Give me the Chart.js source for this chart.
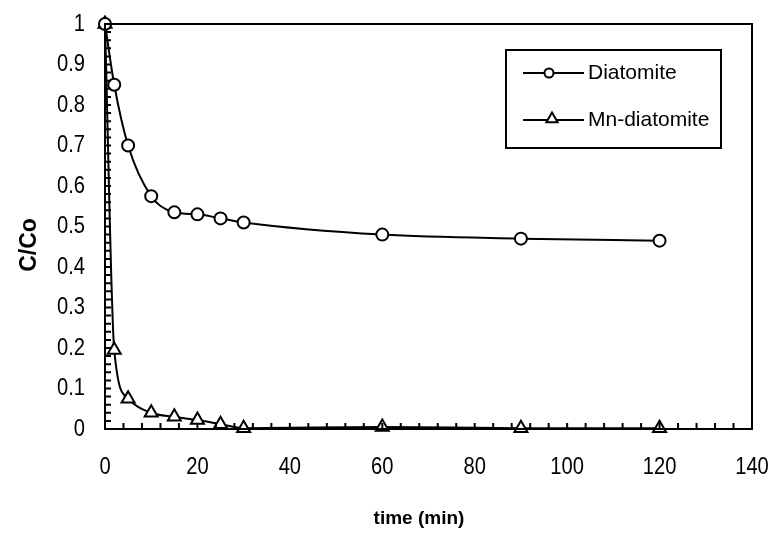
<!DOCTYPE html>
<html>
<head>
<meta charset="utf-8">
<script src="https://cdn.jsdelivr.net/npm/chart.js@4.4.1/dist/chart.umd.min.js"></script>
<style>
  html, body { margin: 0; padding: 0; background: #fff; }
  canvas { display: block; }
</style>
</head>
<body>
<canvas id="chart" width="773" height="533"></canvas>
<script>
// データ
const times = [0, 2, 5, 10, 15, 20, 25, 30, 60, 90, 120];
const diatomite = [1.0, 0.85, 0.70, 0.575, 0.535, 0.53, 0.52, 0.51, 0.48, 0.47, 0.465];
const mnDiatomite = [1.0, 0.195, 0.075, 0.04, 0.03, 0.022, 0.012, 0.002, 0.005, 0.002, 0.002];
const seriesLabels = ['Diatomite', 'Mn-diatomite'];
const xTitle = 'time (min)';
const yTitle = 'C/Co';

const labelFamily = "'Liberation Sans', Arial, sans-serif";

function toPoints(ys) {
    return times.map((t, i) => ({ x: t, y: ys[i] }));
}

// 横に少し詰めて文字を描く（元図の細長い数字に合わせる）
function narrowText(ctx, text, x, y, align) {
    const sx = 0.84;
    ctx.save();
    ctx.translate(x, y);
    ctx.scale(sx, 1);
    ctx.textAlign = align;
    ctx.fillText(text, 0, 0);
    ctx.restore();
}

// 内向きの目盛り・外枠・目盛りラベル・軸タイトル
const frameTicks = {
    id: 'frameTicks',
    afterDatasetsDraw(chart) {
        const { ctx, chartArea: a, scales: { x, y } } = chart;
        ctx.save();
        ctx.strokeStyle = '#000';
        ctx.lineWidth = 2;
        ctx.strokeRect(a.left, a.top, a.right - a.left, a.bottom - a.top);
        ctx.beginPath();
        for (let v = 0; v <= 140; v += 4) {
            const px = x.getPixelForValue(v);
            ctx.moveTo(px, a.bottom);
            ctx.lineTo(px, a.bottom - 6);
        }
        for (let k = 0; k <= 50; k++) {
            const py = y.getPixelForValue(k * 0.02);
            ctx.moveTo(a.left, py);
            ctx.lineTo(a.left + 6, py);
        }
        ctx.stroke();

        ctx.fillStyle = '#000';
        ctx.font = '24px ' + labelFamily;
        ctx.textBaseline = 'middle';
        x.ticks.forEach(t => {
            narrowText(ctx, String(t.value), x.getPixelForValue(t.value), a.bottom + 38, 'center');
        });
        y.ticks.forEach(t => {
            narrowText(ctx, String(+t.value.toFixed(1)), a.left - 20, y.getPixelForValue(t.value), 'right');
        });

        ctx.font = 'bold 19px ' + labelFamily;
        ctx.textAlign = 'center';
        ctx.fillText(xTitle, 419, 519);
        ctx.save();
        ctx.translate(30, 245);
        ctx.rotate(-Math.PI / 2);
        ctx.font = 'bold 23px ' + labelFamily;
        ctx.fillText(yTitle, 0, 0);
        ctx.restore();
        ctx.restore();
    }
};

// 凡例（線＋マーカー）
const boxLegend = {
    id: 'boxLegend',
    afterDraw(chart) {
        const { ctx } = chart;
        const bx = 506, by = 50, bw = 215, bh = 98;
        ctx.save();
        ctx.fillStyle = '#fff';
        ctx.fillRect(bx, by, bw, bh);
        ctx.strokeStyle = '#000';
        ctx.lineWidth = 2;
        ctx.strokeRect(bx, by, bw, bh);
        const rows = [73, 120];
        chart.data.datasets.forEach((ds, i) => {
            const yy = rows[i];
            ctx.beginPath();
            ctx.lineWidth = 2;
            ctx.moveTo(523, yy);
            ctx.lineTo(584, yy);
            ctx.stroke();
            ctx.fillStyle = '#fff';
            Chart.helpers.drawPoint(ctx, {
                pointStyle: ds.pointStyle,
                radius: i === 0 ? 4.5 : 6.5,
                borderWidth: 2
            }, i === 0 ? 549 : 552, i === 0 ? yy : yy - 1);
            ctx.fillStyle = '#000';
            ctx.font = '21px ' + labelFamily;
            ctx.textBaseline = 'middle';
            ctx.textAlign = 'left';
            ctx.fillText(ds.label, 588, yy);
        });
        ctx.restore();
    }
};

new Chart(document.getElementById('chart'), {
    type: 'line',
    data: {
        datasets: [
            {
                label: seriesLabels[0],
                data: toPoints(diatomite),
                borderColor: '#000',
                borderWidth: 2,
                pointStyle: 'circle',
                pointRadius: 6,
                pointBorderWidth: 2,
                pointBackgroundColor: '#fff',
                pointBorderColor: '#000',
                cubicInterpolationMode: 'monotone',
                fill: false
            },
            {
                label: seriesLabels[1],
                data: toPoints(mnDiatomite),
                borderColor: '#000',
                borderWidth: 2,
                pointStyle: 'triangle',
                pointRadius: 7.5,
                pointBorderWidth: 2,
                pointBackgroundColor: '#fff',
                pointBorderColor: '#000',
                cubicInterpolationMode: 'monotone',
                fill: false
            }
        ]
    },
    options: {
        responsive: false,
        animation: false,
        clip: false,
        layout: { padding: { left: 0, right: 21, top: 24, bottom: 0 } },
        plugins: {
            legend: { display: false },
            tooltip: { enabled: false }
        },
        scales: {
            x: {
                type: 'linear',
                min: 0,
                max: 140,
                afterFit(scale) {
                    scale.height = 104;
                    scale.paddingLeft = 0;
                    scale.paddingRight = 0;
                },
                grid: { display: false, drawTicks: false },
                border: { display: true, color: '#000', width: 2 },
                ticks: { stepSize: 20, display: false },
                title: { display: false, text: xTitle }
            },
            y: {
                min: 0,
                max: 1,
                afterFit(scale) {
                    scale.width = 105;
                    scale.paddingTop = 0;
                    scale.paddingBottom = 0;
                },
                grid: { display: false, drawTicks: false },
                border: { display: true, color: '#000', width: 2 },
                ticks: { stepSize: 0.1, display: false },
                title: { display: false, text: yTitle }
            }
        }
    },
    plugins: [frameTicks, boxLegend]
});
</script>
</body>
</html>
